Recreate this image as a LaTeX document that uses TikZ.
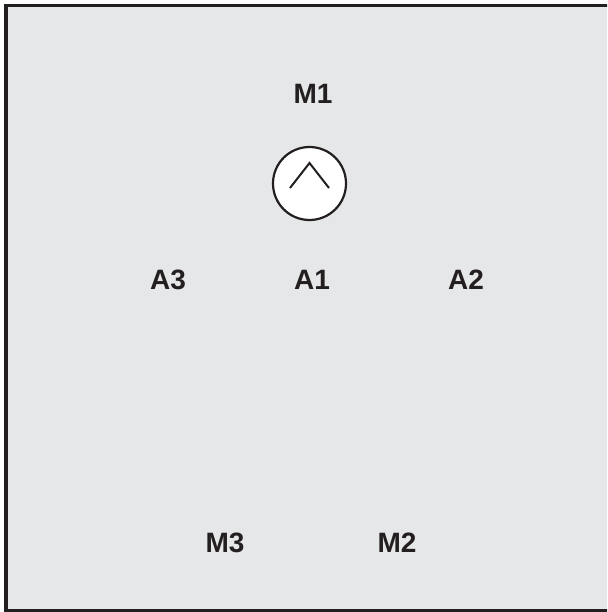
\documentclass[tikz,border=0pt]{standalone}
\usepackage{fontspec}
\setmainfont{Liberation Sans}
\usepackage{tikz}
\definecolor{panelgray}{HTML}{E6E7E8}
\definecolor{inkblack}{HTML}{231F20}
\tikzset{
	lbl/.style = {anchor = base, font = \fontsize{28}{30}\selectfont\bfseries, text = inkblack, inner sep = 0pt},
	dial/.style = {circle, draw = inkblack, fill = white, line width = 2.2pt, minimum size = 73pt, inner sep = 0pt}
}

\begin{document}
\begin{tikzpicture}[x=1pt, y=-1pt]
		\useasboundingbox (0,0) rectangle (607,612);
		\clip (0,0) rectangle (607,612);

		\draw[fill = panelgray, draw = inkblack, line width = 3.5pt] (6,5.5) rectangle (609.5,610.5);

		\node[lbl] (m1) at (313,104) {M1};

		\node[dial] (sw) at (309.5,183.5) {};
		\draw[inkblack, line width = 2pt] (290,188) -- (309.5,163) -- (329,188);

		\node[lbl] (a3) at (168,289) {A3};
		\node[lbl] (a1) at (312,289) {A1};
		\node[lbl] (a2) at (466,289) {A2};

		\node[lbl] (m3) at (225,552) {M3};
		\node[lbl] (m2) at (397,552) {M2};

	\end{tikzpicture}
\end{document}
